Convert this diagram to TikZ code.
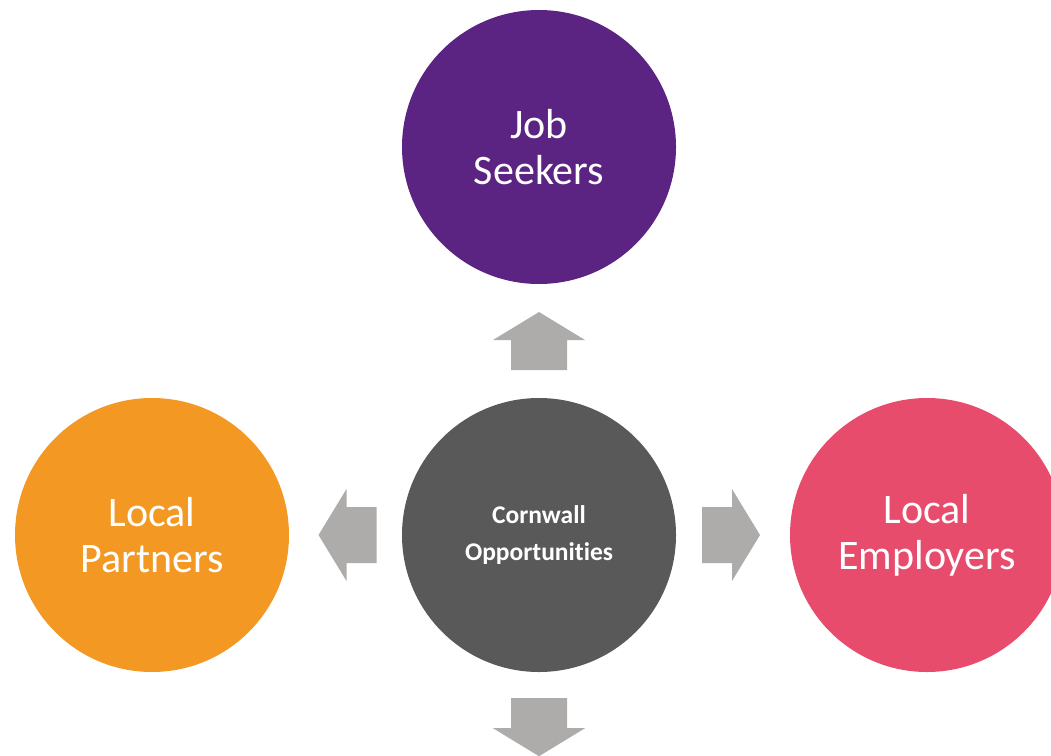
\documentclass[tikz,border=0pt]{standalone}
\usepackage{fontspec}
\setmainfont[Ligatures={NoCommon}]{Carlito}
\usetikzlibrary{calc}

\definecolor{seekerpurple}{HTML}{5C2482}
\definecolor{hubgrey}{HTML}{595959}
\definecolor{partnerorange}{HTML}{F39823}
\definecolor{employerpink}{HTML}{E84C6D}
\definecolor{arrowgrey}{HTML}{AEABAB}

\begin{document}
\begin{tikzpicture}[x=1pt, y=-1pt,
  disc/.style={circle, minimum size=274pt, inner sep=0pt, text=white,
    align=center, font=\fontsize{42}{46}\selectfont},
  % block arrow centred on its placement point, pointing along +x
  pics/blockarrow/.style={code={
    \fill[arrowgrey] (-29,-28) -- (1,-28) -- (1,-46) -- (29,0)
      -- (1,46) -- (1,28) -- (-29,28) -- cycle;}}
]
\useasboundingbox (0,0) rectangle (1051,755);
\clip (0,0) rectangle (1051,755);

% circles
\node[disc, fill=seekerpurple] (seekers) at (539,147) {Job\\Seekers};
\node[disc, fill=hubgrey, font=\fontsize{25.5}{37}\selectfont\bfseries]
  (hub) at (539,535) {Cornwall\\Opportunities};
\node[disc, fill=partnerorange] (partners) at (152,535) {Local\\Partners};
\node[disc, fill=employerpink] (employers) at (927,535) {Local\\Employers};

% block arrows radiating from the hub
\pic[rotate=90]  at ($(hub.north)!.5!(seekers.south)$) {blockarrow};
\pic[rotate=180] at ($(hub.west)!.5!(partners.east)+(2,0)$) {blockarrow};
\pic             at ($(hub.east)!.5!(employers.west)+(-2,0)$) {blockarrow};
\pic[rotate=-90] at ($(hub.south)+(0,55)$) {blockarrow};
\end{tikzpicture}
\end{document}
